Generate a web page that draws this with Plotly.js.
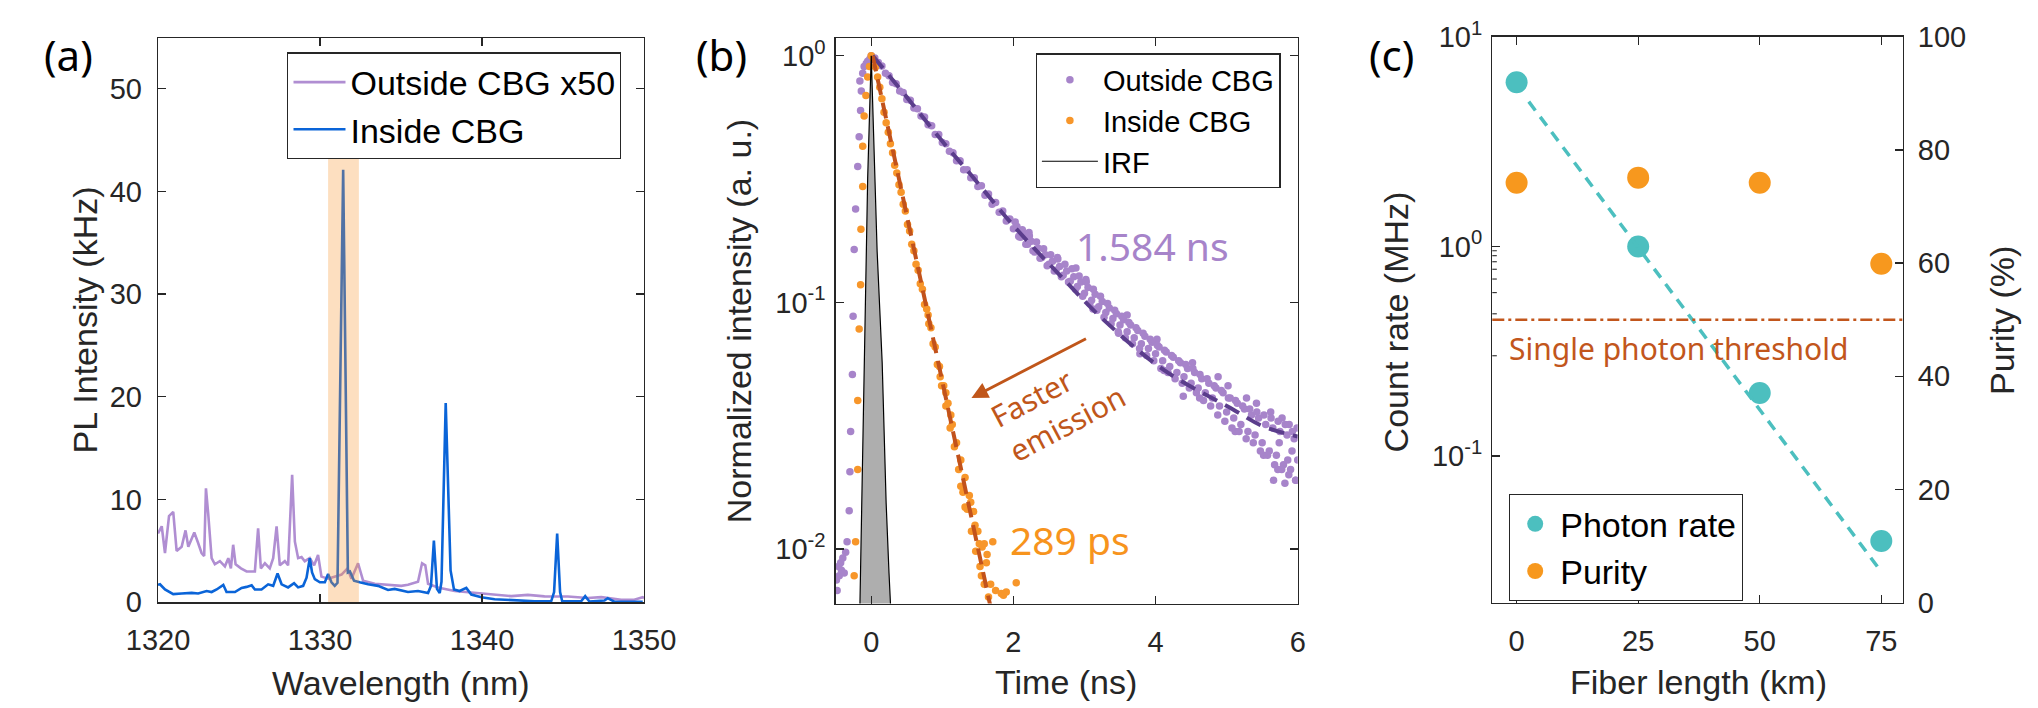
<!DOCTYPE html>
<html><head><meta charset="utf-8">
<script src="https://cdn.plot.ly/plotly-3.0.1.min.js"></script>
<style>html,body{margin:0;padding:0;background:#fff;}#chart{width:2038px;height:708px;}</style>
</head><body><div id="chart"></div>
<script>
// ---------- Panel (a): PL spectra ----------
const wlOutside = [1320.00,1320.23,1320.43,1320.68,1320.94,1321.15,1321.46,1321.70,1321.87,1322.24,1322.45,1322.69,1322.85,1322.96,1323.10,1323.31,1323.51,1323.82,1324.13,1324.34,1324.50,1324.64,1324.79,1325.12,1325.47,1325.98,1326.18,1326.35,1326.60,1326.90,1327.11,1327.32,1327.52,1327.83,1328.03,1328.28,1328.45,1328.65,1328.86,1329.06,1329.37,1329.64,1329.88,1330.09,1330.50,1330.91,1331.33,1331.70,1331.94,1332.35,1332.66,1333.38,1334.20,1335.02,1335.43,1336.05,1336.30,1336.50,1336.67,1337.28,1338.31,1339.75,1340.78,1341.81,1342.83,1343.86,1345.30,1346.53,1347.36,1348.59,1349.40,1349.92,1350.00];
const plOutside = [6.7,7.4,4.8,8.4,8.8,5.0,5.4,7.0,5.4,6.8,5.9,4.8,4.5,11.1,8.6,4.3,3.7,4.0,3.5,4.3,3.3,5.6,3.7,3.3,3.0,3.0,7.2,3.3,3.8,3.3,4.3,7.4,3.6,4.0,3.6,12.4,5.9,4.3,4.4,4.0,4.3,3.6,4.6,2.5,2.3,2.5,2.7,3.3,2.3,3.8,2.1,1.8,1.7,1.6,1.7,2.0,3.8,3.6,1.8,1.45,1.1,0.9,0.75,0.6,0.72,0.58,0.56,0.42,0.5,0.25,0.25,0.5,0.4];
const wlInside = [1320.00,1320.12,1320.43,1320.94,1321.46,1322.08,1322.48,1323.00,1323.31,1323.62,1324.03,1324.23,1324.75,1325.16,1325.47,1325.78,1325.98,1326.39,1326.80,1327.11,1327.38,1327.63,1328.03,1328.40,1328.65,1328.96,1329.17,1329.37,1329.51,1329.68,1329.99,1330.30,1330.50,1330.71,1330.91,1331.08,1331.43,1331.72,1331.85,1332.10,1332.45,1332.97,1333.58,1334.20,1334.61,1335.12,1335.43,1336.05,1336.67,1336.85,1337.03,1337.22,1337.39,1337.50,1337.76,1338.06,1338.27,1338.62,1339.03,1339.34,1339.96,1340.78,1341.81,1343.24,1344.27,1344.45,1344.64,1344.82,1344.95,1346.12,1346.37,1346.63,1347.56,1347.76,1348.17,1349.92];
const plInside = [1.7,1.75,1.25,0.8,0.85,0.92,0.86,1.1,1.0,1.25,1.7,1.0,1.0,1.4,1.5,1.65,1.25,1.25,1.75,1.6,2.8,1.75,1.45,1.85,1.45,1.6,2.4,4.3,2.9,2.25,1.95,1.95,2.75,1.95,1.6,1.9,42.1,2.9,3.0,2.1,1.95,1.75,1.6,1.2,1.3,1.1,1.0,1.1,0.9,1.6,6.0,1.3,0.9,2.0,19.4,3.1,1.25,1.1,1.4,0.75,0.5,0.3,0.22,0.1,0.1,1.0,6.7,1.0,0.1,0.1,0.6,0.08,0.18,0.4,0.06,0.05];
const bandRange = [1330.5, 1332.4];
const bandTop = 43.3;

// ---------- Panel (b): time-resolved PL ----------
const tOutRise = [-0.49,-0.48,-0.46,-0.45,-0.43,-0.42,-0.40,-0.38,-0.36,-0.34,-0.31,-0.30,-0.29,-0.265,-0.255,-0.24,-0.22,-0.19,-0.17,-0.15,-0.14,-0.16,-0.12,-0.10,-0.07,-0.05,-0.02,0.0];
const yOutRise = [0.0075,0.0068,0.0085,0.0078,0.0088,0.0082,0.0092,0.0080,0.0097,0.0107,0.0143,0.0206,0.030,0.051,0.088,0.164,0.239,0.356,0.47,0.60,0.72,0.79,0.85,0.905,0.93,0.95,0.97,1.0];
const tOutDecay = [0.05,0.10,0.15,0.20,0.25,0.30,0.35,0.40,0.45,0.50,0.55,0.60,0.65,0.70,0.75,0.80,0.85,0.90,0.95,1.00,1.05,1.10,1.15,1.20,1.25,1.30,1.35,1.40,1.45,1.50,1.55,1.60,1.65,1.70,1.75,1.80,1.85,1.90,1.95,2.00,2.05,2.10,2.15,2.20,2.25,2.30,2.35,2.40,2.45,2.50,2.55,2.60,2.65,2.70,2.75,2.80,2.85,2.90,2.95,3.00,3.05,3.10,3.15,3.20,3.25,3.30,3.35,3.40,3.45,3.50,3.55,3.60,3.65,3.70,3.75,3.80,3.85,3.90,3.95,4.00,4.05,4.10,4.15,4.20,4.25,4.30,4.35,4.40,4.45,4.50,4.55,4.60,4.65,4.70,4.75,4.80,4.85,4.90,4.95,5.00,5.05,5.10,5.15,5.20,5.25,5.30,5.35,5.40,5.45,5.50,5.55,5.60,5.65,5.70,5.75,5.80,5.85,5.90,5.95,6.00,
  2.22,2.62,2.88,3.02,3.12,3.48,3.60,3.78,4.02,4.12,4.39,4.52,4.62,4.88,5.02,5.12,5.28,5.42,5.52,5.62,5.66,5.72,5.78,5.82,5.88,5.92,5.97,5.99,5.86,5.74];
const yOutDecay = [0.98,0.94,0.91,0.85,0.83,0.78,0.77,0.72,0.71,0.665,0.66,0.615,0.61,0.57,0.565,0.525,0.52,0.48,0.48,0.445,0.44,0.41,0.405,0.375,0.375,0.345,0.345,0.32,0.32,0.295,0.297,0.272,0.275,0.25,0.254,0.232,0.235,0.214,0.218,0.199,0.203,0.184,0.189,0.172,0.177,0.16,0.166,0.152,0.156,0.143,0.147,0.135,0.14,0.129,0.134,0.122,0.127,0.116,0.121,0.109,0.115,0.102,0.108,0.096,0.101,0.091,0.095,0.086,0.090,0.081,0.085,0.076,0.081,0.072,0.077,0.068,0.073,0.065,0.069,0.062,0.066,0.058,0.063,0.055,0.060,0.052,0.057,0.050,0.054,0.047,0.052,0.045,0.049,0.043,0.047,0.041,0.045,0.038,0.043,0.036,0.041,0.034,0.039,0.032,0.037,0.030,0.035,0.029,0.034,0.027,0.032,0.025,0.031,0.024,0.030,0.022,0.029,0.021,0.028,0.023,
  0.192,0.152,0.138,0.124,0.094,0.075,0.089,0.062,0.071,0.053,0.0417,0.057,0.041,0.050,0.046,0.030,0.041,0.039,0.024,0.036,0.019,0.021,0.034,0.0185,0.032,0.025,0.019,0.031,0.023,0.027];
const tOutTail = [2.025,2.075,2.125,2.175,2.225,2.275,2.325,2.375,2.425,2.475,2.525,2.575,2.625,2.675,2.725,2.775,2.825,2.875,2.925,2.975,3.025,3.075,3.125,3.175,3.225,3.275,3.325,3.375,3.425,3.475,3.525,3.575,3.625,3.675,3.725,3.775,3.825,3.875,3.925,3.975,4.025,4.075,4.125,4.175,4.225,4.275,4.325,4.375,4.425,4.475,4.525,4.575,4.625,4.675,4.725,4.775,4.825,4.875,4.925,4.975,5.025,5.075,5.125,5.175,5.225,5.275,5.325,5.375,5.425,5.475,5.525,5.575,5.625,5.675,5.725,5.775,5.825,5.875,5.925,5.975];
const yOutTail = [0.212,0.185,0.197,0.172,0.186,0.162,0.176,0.151,0.165,0.141,0.156,0.134,0.150,0.127,0.143,0.121,0.137,0.113,0.128,0.106,0.121,0.099,0.113,0.093,0.106,0.087,0.099,0.082,0.093,0.076,0.088,0.072,0.083,0.068,0.079,0.065,0.075,0.061,0.071,0.058,0.067,0.054,0.064,0.052,0.061,0.049,0.058,0.047,0.056,0.045,0.054,0.043,0.051,0.040,0.049,0.038,0.046,0.035,0.044,0.033,0.041,0.031,0.040,0.030,0.038,0.028,0.037,0.027,0.036,0.025,0.035,0.024,0.034,0.022,0.033,0.021,0.032,0.020,0.030,0.019];
const tInRise = [-0.24,-0.22,-0.19,-0.19,-0.17,-0.15,-0.145,-0.12,-0.12,-0.10,-0.075,-0.05,-0.025,0.0];
const yInRise = [0.0078,0.0107,0.021,0.040,0.078,0.118,0.198,0.295,0.43,0.57,0.69,0.82,0.906,1.0];
const tInDecay = [0.03,0.06,0.09,0.12,0.15,0.18,0.21,0.24,0.27,0.30,0.33,0.36,0.39,0.42,0.45,0.48,0.51,0.54,0.57,0.60,0.63,0.66,0.69,0.72,0.75,0.78,0.81,0.84,0.87,0.90,0.93,0.96,0.99,1.02,1.05,1.08,1.11,1.14,1.17,1.20,1.23,1.26,1.29,1.32,1.35,1.38,1.41,1.44,1.47,1.50,1.53,1.56,1.59,1.62,1.65,
  1.26,1.32,1.40,1.46,1.52,1.55,1.59,1.63,1.68,1.71,1.75,1.83,1.86,1.90,2.04,1.05,0.97,0.80,1.12];
const yInDecay = [0.97,0.90,0.82,0.745,0.67,0.59,0.535,0.49,0.44,0.405,0.36,0.335,0.30,0.28,0.25,0.235,0.207,0.195,0.172,0.162,0.143,0.135,0.119,0.113,0.098,0.094,0.082,0.079,0.068,0.066,0.056,0.055,0.046,0.046,0.038,0.039,0.031,0.032,0.026,0.027,0.021,0.023,0.017,0.0195,0.0145,0.0165,0.0118,0.0142,0.0098,0.0118,0.0085,0.0102,0.0072,0.0088,0.0064,
  0.018,0.0148,0.0155,0.0125,0.0105,0.0078,0.0105,0.0095,0.0072,0.0107,0.0068,0.0066,0.0065,0.0067,0.0073,0.043,0.050,0.089,0.035];
const tFitOut = [0.02,0.5,1.0,1.4,2.0,2.71,3.27,4.11,5.09,5.51,6.0];
const yFitOut = [1.0,0.68,0.45,0.33,0.205,0.124,0.085,0.0534,0.0368,0.0315,0.0286];
const tFitIn = [0.02,1.68];
const yFitIn = [1.0,0.0058];
const tIrf = [-0.17,-0.10,-0.05,0.0,0.04,0.083,0.154,0.21,0.25,0.30];
const yIrf = [0.004,0.05,0.32,1.0,0.40,0.161,0.057,0.0153,0.008,0.004];
const lifetimeOut = '1.584 ns';
const lifetimeIn = '289 ps';
const arrowHead = [1.41, 0.041];

// ---------- Panel (c): fiber transmission ----------
const fiberKm = [0,25,50,75];
const photonRate = [6.06,1.0,0.2,0.0394];
const purity = [74.2,75.1,74.2,59.9];
const fitKm = [2.5,74.8];
const fitRate = [4.9,0.0285];
const thresholdPurity = 50;

// log-axis tick positions (major and minor)
const majorB = [0.01,0.1,1], majorC = [0.1,1,10];
const minorB = [0.007,0.008,0.009,0.02,0.03,0.04,0.05,0.06,0.07,0.08,0.09,0.2,0.3,0.4,0.5,0.6,0.7,0.8,0.9];
const minorC = [0.03,0.04,0.05,0.06,0.07,0.08,0.09,0.2,0.3,0.4,0.5,0.6,0.7,0.8,0.9,2,3,4,5,6,7,8,9];

// ---------- styling ----------
const W = 2038, H = 708;
const px = v => v / W, py = v => 1 - v / H;
const AX = '#262626';
const tickFont = {family:'Liberation Sans, Arial, sans-serif', size:29, color:AX};
const titleFont = {family:'Liberation Sans, Arial, sans-serif', size:34, color:AX};
const noto = (s,c) => ({family:'Noto Sans, Open Sans, sans-serif', size:s, color:c});
const baseAxis = {showline:true, linecolor:AX, linewidth:1.3, ticks:'inside', ticklen:8, tickwidth:1.3, tickcolor:AX,
  showgrid:false, zeroline:false, tickfont:tickFont, fixedrange:true};
const sup = v => '10<sup>' + Math.round(Math.log10(v)) + '</sup>';

const cPurple='#b08ed2', cBlue='#0a64d8', cDot='#a784ca', cOr='#f7962a', cFitOut='#5b3d8c', cFitIn='#c2521b',
      cBrown='#c0561a', cTeal='#4cbfbf', cOr2='#f7981e';

const traces = [
  {x:wlOutside, y:plOutside, type:'scatter', mode:'lines', name:'Outside CBG x50', line:{color:cPurple, width:2.6}, xaxis:'x', yaxis:'y', legend:'legend'},
  {x:wlInside, y:plInside, type:'scatter', mode:'lines', name:'Inside CBG', line:{color:cBlue, width:2.6}, xaxis:'x', yaxis:'y', legend:'legend'},

  {x:tOutRise.concat(tOutDecay, tOutTail), y:yOutRise.concat(yOutDecay, yOutTail), type:'scatter', mode:'markers', name:'Outside CBG',
    marker:{color:cDot, size:7.5}, xaxis:'x2', yaxis:'y2', legend:'legend2'},
  {x:tInRise.concat(tInDecay), y:yInRise.concat(yInDecay), type:'scatter', mode:'markers', name:'Inside CBG',
    marker:{color:cOr, size:7.5}, xaxis:'x2', yaxis:'y2', legend:'legend2'},
  {x:tFitOut, y:yFitOut, type:'scatter', mode:'lines', line:{color:cFitOut, width:4, dash:'16px,9px', shape:'spline'}, showlegend:false, xaxis:'x2', yaxis:'y2'},
  {x:tFitIn, y:yFitIn, type:'scatter', mode:'lines', line:{color:cFitIn, width:4, dash:'16px,8px'}, showlegend:false, xaxis:'x2', yaxis:'y2'},
  {x:tIrf, y:yIrf, type:'scatter', mode:'lines', fill:'toself', fillcolor:'#aeaeae', line:{color:'#000', width:1.2}, showlegend:false, xaxis:'x2', yaxis:'y2'},
  {x:[null], y:[null], type:'scatter', mode:'lines', name:'IRF', line:{color:'#000', width:1.2}, xaxis:'x2', yaxis:'y2', legend:'legend2'},

  {x:fiberKm, y:photonRate, type:'scatter', mode:'markers', name:'Photon rate', marker:{color:cTeal, size:22}, xaxis:'x3', yaxis:'y3', legend:'legend3'},
  {x:fiberKm, y:purity, type:'scatter', mode:'markers', name:'Purity', marker:{color:cOr2, size:22}, xaxis:'x3', yaxis:'y4', legend:'legend3'},
  {x:fitKm, y:fitRate, type:'scatter', mode:'lines', line:{color:cTeal, width:3.5, dash:'11px,8px'}, showlegend:false, xaxis:'x3', yaxis:'y3'}
];

const legendBase = {xanchor:'left', yanchor:'top', bgcolor:'#fff', bordercolor:AX, borderwidth:1.2, traceorder:'normal'};
const ann = (text,x,y,font,extra) => Object.assign({text, x:px(x), y:py(y), xref:'paper', yref:'paper', showarrow:false, font, xanchor:'center', yanchor:'middle'}, extra||{});

// minor ticks on log axes drawn as short tick segments inside the box (shape coords on log axes are log10)
function minorTickShapes(xref, yref, vals, sides) {
  const out = [];
  vals.forEach(v => sides.forEach(s => {
    const ly = Math.log10(v);
    out.push({type:'line', xref:xref + ' domain', yref:yref, x0:s, x1:s + (s === 0 ? 1 : -1) * 0.011, y0:ly, y1:ly,
      line:{color:AX, width:1.1}, layer:'above'});
  }));
  return out;
}

const layout = {
  width:W, height:H, margin:{l:0,r:0,t:0,b:0}, paper_bgcolor:'#fff', plot_bgcolor:'#fff', hovermode:false,
  xaxis: Object.assign({}, baseAxis, {domain:[px(158), px(644)], range:[1320,1350], dtick:10, mirror:'ticks', anchor:'y', ticklabelstandoff:12}),
  yaxis: Object.assign({}, baseAxis, {domain:[1-602.3/H, 1-38.3/H], range:[0,54.9], dtick:10, mirror:'ticks', anchor:'x', ticklabelstandoff:9}),
  xaxis2: Object.assign({}, baseAxis, {domain:[px(835.7), px(1297.7)], range:[-0.5,6], dtick:2, mirror:'ticks', anchor:'y2', ticklabelstandoff:12}),
  yaxis2: Object.assign({}, baseAxis, {domain:[1-603.6/H, 1-38.3/H], type:'log', range:[-2.221,0.071], mirror:'ticks', anchor:'x2',
    tickmode:'array', tickvals:majorB, ticktext:majorB.map(sup), ticklabelstandoff:3}),
  xaxis3: Object.assign({}, baseAxis, {domain:[px(1492.3), px(1902.7)], range:[-5,79.4], tickmode:'array', tickvals:[0,25,50,75], mirror:'ticks', anchor:'y3', ticklabelstandoff:12}),
  yaxis3: Object.assign({}, baseAxis, {domain:[1-602.7/H, 1-36.7/H], type:'log', range:[Math.log10(0.02),1], anchor:'x3',
    tickmode:'array', tickvals:majorC, ticktext:majorC.map(sup), ticklabelstandoff:3}),
  yaxis4: Object.assign({}, baseAxis, {overlaying:'y3', side:'right', anchor:'x3', range:[0,100], dtick:20, ticklabelstandoff:8}),
  legend: Object.assign({}, legendBase, {x:px(287.3), y:py(52.3), font:{family:'Liberation Sans, Arial, sans-serif', size:34, color:'#000'}, itemwidth:52}),
  legend2: Object.assign({}, legendBase, {x:px(1035.7), y:py(53.3), font:{family:'Liberation Sans, Arial, sans-serif', size:29, color:'#000'}, itemwidth:56}),
  legend3: Object.assign({}, legendBase, {x:px(1509), y:py(494), font:{family:'Liberation Sans, Arial, sans-serif', size:34, color:'#000'}, itemwidth:40}),
  shapes: [
    {type:'rect', xref:'x', yref:'y', x0:bandRange[0], x1:bandRange[1], y0:0, y1:bandTop, fillcolor:'rgb(248,148,45)', opacity:0.3, line:{width:0}, layer:'above'},
    {type:'line', xref:'x3 domain', yref:'y4', x0:0, x1:1, y0:thresholdPurity, y1:thresholdPurity, line:{color:'#c2561c', width:2.5, dash:'12px,4px,3px,4px'}}
  ].concat(minorTickShapes('x2','y2',minorB,[0,1]), minorTickShapes('x3','y3',minorC,[0])),
  annotations: [
    ann('(a)', 68.5, 54, noto(42,'#000')),
    ann('(b)', 721, 54, noto(42,'#000')),
    ann('(c)', 1391, 54, noto(42,'#000')),
    ann('Wavelength (nm)', 400.8, 683, titleFont),
    ann('PL Intensity (kHz)', 84, 320.5, titleFont, {textangle:-90}),
    ann('Time (ns)', 1066, 682, titleFont),
    ann('Normalized intensity (a. u.)', 738.5, 321.7, titleFont, {textangle:-90}),
    ann('Fiber length (km)', 1698.4, 682, titleFont),
    ann('Count rate (MHz)', 1395.7, 321.7, titleFont, {textangle:-90}),
    ann('Purity (%)', 2001.2, 320.7, titleFont, {textangle:-90}),
    ann(lifetimeOut, 1152.6, 246, noto(39,cDot)),
    ann(lifetimeIn, 1070, 539.5, noto(39,'#f7941d')),
    ann('Faster<br>emission', 1058, 406, noto(30,cBrown), {textangle:-28, align:'left'}),
    {text:'', xref:'x2', yref:'y2', x:arrowHead[0], y:Math.log10(arrowHead[1]), showarrow:true, ax:116, ay:-60,
      arrowhead:2, arrowsize:1.1, arrowwidth:3, arrowcolor:cBrown},
    ann('Single photon threshold', 1507, 348.5, noto(30,'#c2561c'), {xanchor:'left'})
  ]
};

Plotly.newPlot('chart', traces, layout, {staticPlot:true, displayModeBar:false});
</script>
</body></html>
